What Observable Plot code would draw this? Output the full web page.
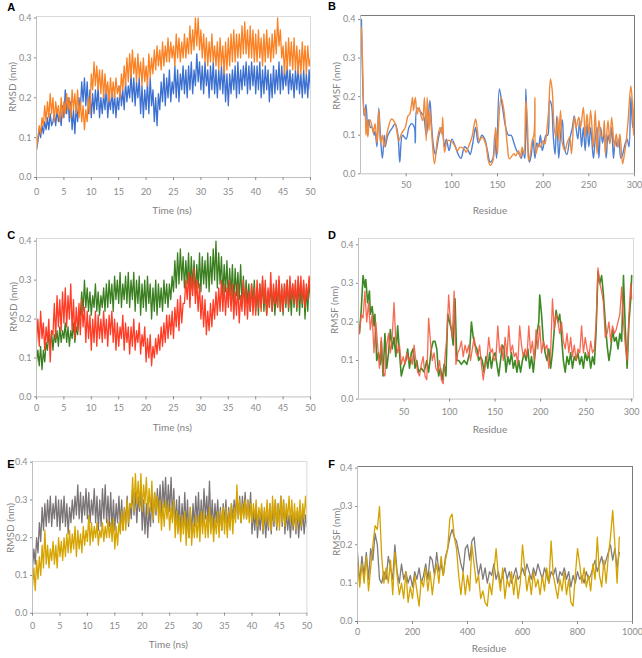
<!DOCTYPE html>
<html><head><meta charset="utf-8">
<script src="https://cdn.jsdelivr.net/npm/d3@7"></script>
<script src="https://cdn.jsdelivr.net/npm/@observablehq/plot@0.6"></script>
<style>
html,body{margin:0;padding:0;background:#fff;}
#root{position:relative;width:642px;height:658px;background:#fff;overflow:hidden;}
#root svg{position:absolute;}
</style></head>
<body><div id="root"></div>
<script>
// ---------- DATA ----------
const timeStep = 0.25; // ns between readings of the RMSD traces
// Panel A (RMSD, nm)
const aBlue = [0.07,0.09,0.12,0.10,0.13,0.11,0.14,0.12,0.15,0.12,0.16,0.13,0.14,0.16,0.13,0.17,0.14,0.16,0.13,0.18,
0.15,0.22,0.16,0.20,0.14,0.19,0.12,0.17,0.11,0.18,0.14,0.20,0.17,0.24,0.19,0.25,0.18,0.24,0.16,0.22,
0.15,0.21,0.16,0.22,0.17,0.23,0.15,0.20,0.16,0.21,0.17,0.23,0.15,0.20,0.17,0.22,0.16,0.21,0.15,0.20,
0.17,0.23,0.18,0.22,0.17,0.24,0.19,0.23,0.20,0.26,0.19,0.25,0.18,0.24,0.20,0.25,0.16,0.23,0.15,0.22,
0.17,0.24,0.16,0.25,0.18,0.22,0.14,0.20,0.13,0.21,0.17,0.24,0.19,0.26,0.18,0.25,0.20,0.27,0.19,0.24,
0.21,0.28,0.20,0.27,0.19,0.26,0.22,0.28,0.21,0.27,0.20,0.28,0.22,0.29,0.21,0.27,0.23,0.31,0.24,0.29,
0.22,0.28,0.21,0.29,0.23,0.27,0.20,0.28,0.22,0.29,0.21,0.27,0.20,0.27,0.22,0.28,0.21,0.28,0.19,0.26,
0.18,0.26,0.21,0.27,0.22,0.28,0.20,0.29,0.21,0.27,0.22,0.28,0.23,0.29,0.21,0.28,0.22,0.29,0.23,0.28,
0.21,0.28,0.22,0.29,0.20,0.27,0.21,0.28,0.22,0.27,0.19,0.26,0.20,0.28,0.21,0.27,0.22,0.29,0.21,0.28,
0.22,0.27,0.23,0.28,0.21,0.27,0.22,0.26,0.20,0.27,0.22,0.28,0.21,0.26,0.20,0.27,0.21,0.26,0.20,0.27,0.22];
const aOrange = [0.07,0.10,0.13,0.11,0.15,0.13,0.18,0.14,0.19,0.15,0.21,0.16,0.20,0.14,0.19,0.16,0.18,0.14,0.20,0.15,
0.19,0.16,0.21,0.17,0.20,0.15,0.22,0.17,0.21,0.16,0.22,0.15,0.19,0.14,0.18,0.12,0.17,0.14,0.20,0.16,
0.26,0.22,0.29,0.23,0.28,0.22,0.27,0.21,0.27,0.20,0.26,0.21,0.24,0.19,0.25,0.20,0.24,0.20,0.25,0.21,
0.23,0.20,0.26,0.22,0.28,0.23,0.30,0.24,0.31,0.25,0.32,0.26,0.30,0.24,0.31,0.25,0.29,0.23,0.30,0.24,
0.28,0.23,0.31,0.25,0.30,0.26,0.32,0.27,0.33,0.28,0.32,0.27,0.34,0.28,0.33,0.29,0.35,0.29,0.34,0.30,
0.33,0.28,0.36,0.30,0.35,0.29,0.34,0.30,0.36,0.30,0.35,0.31,0.38,0.31,0.37,0.32,0.40,0.33,0.40,0.32,
0.37,0.30,0.36,0.29,0.35,0.28,0.34,0.29,0.36,0.29,0.33,0.28,0.34,0.27,0.35,0.28,0.33,0.26,0.34,0.27,
0.35,0.28,0.36,0.29,0.37,0.29,0.36,0.30,0.36,0.30,0.38,0.31,0.39,0.31,0.37,0.30,0.38,0.30,0.37,0.29,
0.36,0.29,0.37,0.30,0.35,0.28,0.36,0.29,0.37,0.30,0.35,0.29,0.36,0.30,0.37,0.31,0.40,0.33,0.37,0.30,
0.33,0.26,0.34,0.27,0.35,0.28,0.34,0.27,0.35,0.27,0.33,0.26,0.32,0.26,0.34,0.27,0.33,0.26,0.33,0.28,0.30];
// Panel B (RMSF, nm) as [residue, value]
const bBlue = [[1,.40],[2,.28],[4,.15],[6,.18],[8,.10],[9,.14],[11,.12],[13,.12],[15,.10],[16,.11],[18,.07],[20,.17],[22,.09],[24,.04],[26,.10],[27,.07],[30,.10],[35,.12],[38,.13],[41,.10],[43,.03],[46,.10],[50,.09],[53,.12],[56,.13],[59,.12],[60,.08],[62,.17],[66,.16],[69,.15],[72,.10],[74,.14],[76,.19],[78,.12],[80,.07],[82,.05],[86,.10],[89,.12],[92,.07],[94,.09],[97,.06],[100,.09],[104,.07],[107,.05],[110,.04],[114,.07],[118,.06],[120,.05],[123,.08],[126,.12],[129,.08],[133,.10],[136,.09],[139,.06],[142,.03],[145,.04],[147,.10],[149,.04],[152,.22],[155,.18],[159,.12],[162,.10],[165,.10],[168,.08],[171,.06],[174,.05],[176,.04],[178,.06],[180,.04],[181,.22],[183,.08],[185,.03],[187,.05],[189,.09],[191,.04],[193,.08],[195,.07],[197,.10],[199,.06],[201,.08],[203,.10],[205,.10],[207,.19],[209,.18],[211,.10],[213,.05],[215,.15],[217,.04],[219,.10],[221,.14],[223,.07],[226,.05],[229,.09],[232,.12],[234,.15],[236,.12],[238,.09],[240,.14],[242,.07],[244,.12],[246,.06],[248,.13],[250,.07],[252,.12],[255,.04],[257,.09],[259,.12],[261,.04],[263,.12],[265,.08],[267,.11],[269,.04],[271,.10],[273,.08],[275,.12],[277,.04],[279,.09],[281,.07],[283,.09],[285,.04],[287,.05],[290,.08],[292,.09],[294,.07],[296,.20],[298,.12],[300,.17]];
const bOrange = [[1,.38],[2,.31],[4,.155],[5,.17],[6,.10],[7,.14],[8,.095],[10,.14],[12,.13],[14,.105],[16,.13],[18,.08],[20,.165],[22,.08],[24,.10],[26,.07],[29,.105],[34,.142],[38,.13],[42,.086],[45,.105],[49,.12],[52,.15],[54,.155],[57,.198],[58,.164],[60,.198],[62,.155],[64,.172],[65,.164],[68,.138],[70,.198],[72,.086],[73,.198],[75,.112],[76,.164],[78,.103],[81,.026],[84,.086],[87,.12],[89,.103],[90,.147],[92,.056],[95,.086],[98,.086],[102,.078],[106,.06],[109,.069],[113,.065],[116,.056],[118,.069],[122,.095],[126,.142],[128,.112],[130,.086],[133,.095],[137,.078],[140,.034],[142,.022],[145,.034],[148,.12],[150,.052],[151,.12],[154,.198],[157,.164],[161,.069],[163,.039],[168,.052],[170,.047],[173,.06],[175,.043],[177,.069],[179,.052],[181,.19],[183,.12],[184,.034],[186,.052],[188,.086],[190,.103],[191,.198],[192,.052],[195,.078],[197,.069],[200,.086],[202,.078],[204,.112],[206,.164],[208,.246],[210,.215],[212,.12],[214,.095],[216,.147],[217,.086],[219,.164],[221,.078],[224,.06],[226,.078],[229,.095],[231,.052],[234,.147],[236,.12],[239,.147],[241,.12],[244,.172],[246,.095],[248,.155],[250,.103],[252,.164],[255,.069],[257,.164],[259,.052],[261,.138],[263,.103],[265,.095],[267,.138],[268,.052],[271,.138],[273,.078],[275,.147],[278,.069],[280,.103],[282,.069],[284,.103],[287,.026],[289,.052],[291,.086],[293,.138],[296,.228],[298,.17],[299,.10],[300,.19]];
// Panel C (RMSD, nm)
const cGreen = [0.09,0.12,0.08,0.13,0.07,0.12,0.09,0.14,0.12,0.16,0.13,0.17,0.12,0.16,0.14,0.17,0.13,0.18,0.14,0.17,
0.15,0.19,0.14,0.18,0.13,0.17,0.15,0.19,0.14,0.18,0.16,0.20,0.21,0.27,0.22,0.30,0.23,0.28,0.22,0.27,
0.21,0.26,0.23,0.29,0.22,0.27,0.21,0.26,0.23,0.28,0.22,0.29,0.23,0.30,0.24,0.29,0.22,0.31,0.25,0.30,
0.24,0.32,0.23,0.29,0.25,0.31,0.24,0.32,0.23,0.30,0.25,0.32,0.22,0.30,0.24,0.31,0.21,0.29,0.23,0.30,
0.22,0.31,0.24,0.29,0.20,0.28,0.22,0.30,0.21,0.29,0.23,0.28,0.22,0.30,0.24,0.29,0.23,0.29,0.25,0.31,
0.27,0.35,0.28,0.37,0.29,0.38,0.30,0.36,0.28,0.35,0.29,0.37,0.27,0.36,0.28,0.35,0.26,0.34,0.28,0.37,
0.27,0.36,0.29,0.35,0.28,0.37,0.27,0.36,0.29,0.38,0.30,0.40,0.28,0.37,0.29,0.36,0.26,0.34,0.27,0.35,
0.25,0.33,0.26,0.34,0.24,0.33,0.26,0.32,0.25,0.34,0.24,0.31,0.23,0.30,0.24,0.29,0.22,0.29,0.24,0.30,
0.22,0.28,0.21,0.29,0.23,0.30,0.22,0.28,0.21,0.27,0.23,0.29,0.22,0.28,0.21,0.27,0.23,0.30,0.22,0.28,
0.21,0.29,0.23,0.30,0.22,0.28,0.21,0.29,0.23,0.29,0.22,0.30,0.21,0.28,0.23,0.29,0.20,0.28,0.22,0.30,0.25];
const cRed = [0.14,0.20,0.13,0.22,0.15,0.19,0.12,0.18,0.14,0.20,0.09,0.17,0.16,0.24,0.15,0.26,0.18,0.25,0.17,0.27,
0.19,0.28,0.18,0.26,0.20,0.29,0.17,0.25,0.15,0.23,0.17,0.24,0.16,0.25,0.18,0.23,0.14,0.22,0.15,0.21,
0.12,0.20,0.14,0.22,0.13,0.21,0.15,0.20,0.14,0.22,0.15,0.20,0.13,0.21,0.16,0.22,0.14,0.20,0.12,0.19,
0.13,0.18,0.15,0.21,0.12,0.19,0.14,0.18,0.11,0.18,0.13,0.20,0.12,0.17,0.14,0.19,0.11,0.16,0.13,0.18,
0.09,0.15,0.10,0.16,0.08,0.13,0.10,0.15,0.11,0.16,0.12,0.18,0.13,0.19,0.14,0.21,0.15,0.21,0.16,0.22,
0.15,0.23,0.18,0.25,0.17,0.26,0.19,0.24,0.24,0.30,0.25,0.32,0.23,0.31,0.26,0.33,0.24,0.30,0.22,0.29,
0.20,0.26,0.18,0.25,0.16,0.22,0.17,0.24,0.18,0.25,0.20,0.27,0.21,0.28,0.22,0.30,0.22,0.29,0.21,0.28,
0.23,0.30,0.22,0.29,0.20,0.27,0.21,0.29,0.19,0.26,0.22,0.30,0.21,0.28,0.20,0.27,0.22,0.29,0.21,0.28,
0.21,0.30,0.23,0.29,0.22,0.31,0.24,0.30,0.21,0.28,0.23,0.32,0.22,0.29,0.24,0.30,0.23,0.31,0.22,0.29,
0.22,0.29,0.24,0.30,0.23,0.31,0.25,0.29,0.24,0.30,0.23,0.31,0.25,0.31,0.24,0.30,0.23,0.29,0.25,0.31,0.27];
// Panel D (RMSF, nm) as [residue, value]
const dGreen = [[1,.17],[3,.23],[5,.32],[7,.29],[8,.31],[10,.25],[12,.28],[13,.22],[15,.24],[17,.19],[18,.22],[20,.10],[22,.12],[24,.09],[25,.15],[27,.06],[29,.17],[31,.08],[33,.12],[35,.18],[37,.13],[39,.16],[41,.11],[43,.19],[45,.12],[47,.06],[49,.08],[52,.10],[54,.13],[56,.08],[58,.12],[60,.13],[62,.08],[64,.10],[66,.07],[69,.08],[72,.07],[75,.10],[77,.07],[80,.13],[82,.15],[84,.15],[86,.13],[88,.06],[90,.08],[92,.05],[94,.09],[96,.06],[98,.22],[100,.20],[102,.18],[104,.14],[106,.26],[108,.10],[110,.10],[113,.09],[116,.10],[119,.09],[122,.12],[124,.20],[126,.16],[128,.14],[130,.13],[132,.10],[134,.11],[136,.10],[138,.07],[140,.11],[142,.08],[144,.12],[146,.08],[148,.11],[150,.12],[152,.09],[154,.06],[156,.10],[158,.14],[160,.13],[162,.07],[164,.11],[166,.09],[168,.12],[170,.08],[172,.10],[174,.07],[176,.10],[178,.07],[180,.10],[182,.12],[184,.10],[186,.13],[188,.08],[190,.11],[192,.07],[194,.12],[196,.17],[198,.20],[199,.27],[201,.22],[203,.15],[205,.12],[207,.10],[209,.13],[211,.08],[213,.12],[215,.18],[217,.23],[219,.20],[221,.22],[223,.16],[225,.10],[227,.07],[229,.11],[231,.09],[233,.12],[235,.08],[237,.11],[239,.10],[241,.12],[243,.09],[245,.11],[247,.08],[249,.12],[251,.10],[253,.12],[255,.08],[257,.11],[259,.09],[261,.18],[263,.33],[265,.30],[267,.32],[269,.27],[271,.20],[273,.14],[275,.10],[277,.13],[279,.18],[281,.15],[283,.16],[285,.13],[287,.17],[289,.15],[291,.32],[293,.18],[295,.08],[297,.20],[299,.26],[300,.32]];
const dRed = [[1,.17],[3,.22],[5,.21],[7,.28],[9,.20],[11,.25],[13,.18],[15,.22],[17,.12],[19,.20],[21,.14],[23,.08],[25,.16],[27,.07],[29,.06],[31,.14],[33,.17],[35,.12],[37,.16],[39,.25],[41,.15],[43,.12],[45,.14],[47,.09],[49,.11],[51,.09],[53,.12],[55,.10],[57,.11],[59,.09],[61,.14],[63,.10],[65,.07],[67,.06],[69,.09],[71,.11],[73,.06],[75,.05],[77,.21],[79,.15],[81,.10],[83,.12],[85,.08],[87,.07],[89,.10],[91,.05],[93,.04],[95,.11],[97,.16],[99,.27],[101,.20],[103,.16],[105,.28],[107,.09],[109,.12],[111,.13],[113,.15],[115,.11],[117,.14],[119,.12],[121,.14],[123,.10],[125,.13],[127,.16],[129,.12],[131,.11],[133,.14],[135,.09],[137,.05],[139,.09],[141,.10],[143,.16],[145,.12],[147,.13],[149,.10],[151,.11],[153,.19],[155,.12],[157,.14],[159,.10],[161,.16],[163,.11],[165,.19],[167,.12],[169,.14],[171,.11],[173,.12],[175,.09],[177,.19],[179,.14],[181,.11],[183,.13],[185,.11],[187,.19],[189,.12],[191,.15],[193,.10],[195,.18],[197,.13],[199,.19],[201,.12],[203,.15],[205,.13],[207,.14],[209,.08],[211,.12],[213,.26],[215,.18],[217,.22],[219,.20],[221,.17],[223,.20],[225,.15],[227,.13],[229,.17],[231,.12],[233,.16],[235,.11],[237,.14],[239,.10],[241,.13],[243,.12],[245,.19],[247,.12],[249,.16],[251,.13],[253,.11],[255,.15],[257,.12],[259,.13],[261,.20],[263,.34],[265,.30],[267,.28],[269,.25],[271,.16],[273,.17],[275,.20],[277,.15],[279,.19],[281,.17],[283,.18],[285,.20],[287,.22],[289,.29],[291,.20],[293,.14],[295,.10],[297,.22],[299,.30],[300,.26]];
// Panel E (RMSD, nm)
const eGray = [0.12,0.17,0.13,0.20,0.16,0.24,0.19,0.28,0.22,0.29,0.23,0.30,0.24,0.31,0.23,0.29,0.25,0.31,0.23,0.30,
0.22,0.30,0.24,0.31,0.23,0.29,0.21,0.28,0.24,0.30,0.25,0.31,0.26,0.34,0.25,0.32,0.24,0.31,0.26,0.33,
0.25,0.32,0.24,0.30,0.26,0.33,0.24,0.31,0.22,0.30,0.23,0.33,0.25,0.34,0.24,0.31,0.23,0.32,0.22,0.30,
0.22,0.29,0.24,0.31,0.23,0.30,0.22,0.28,0.24,0.31,0.23,0.29,0.25,0.33,0.26,0.32,0.24,0.31,0.27,0.33,
0.22,0.30,0.21,0.29,0.20,0.28,0.23,0.31,0.24,0.32,0.26,0.33,0.27,0.34,0.25,0.35,0.28,0.36,0.26,0.34,
0.27,0.36,0.25,0.33,0.23,0.30,0.22,0.31,0.21,0.29,0.23,0.32,0.22,0.30,0.20,0.28,0.21,0.29,0.23,0.31,
0.24,0.32,0.22,0.30,0.23,0.33,0.25,0.31,0.24,0.35,0.23,0.30,0.22,0.29,0.24,0.30,0.23,0.28,0.22,0.29,
0.24,0.30,0.22,0.28,0.23,0.29,0.25,0.30,0.26,0.32,0.25,0.31,0.24,0.31,0.26,0.32,0.25,0.30,0.26,0.32,
0.21,0.27,0.22,0.28,0.20,0.26,0.22,0.28,0.21,0.27,0.20,0.26,0.22,0.29,0.21,0.28,0.23,0.30,0.22,0.29,
0.24,0.31,0.23,0.30,0.21,0.27,0.22,0.26,0.20,0.26,0.22,0.27,0.21,0.27,0.20,0.26,0.22,0.27,0.21,0.26,0.23];
const eGold = [0.07,0.12,0.06,0.14,0.09,0.15,0.10,0.18,0.12,0.22,0.13,0.18,0.12,0.17,0.14,0.19,0.13,0.18,0.12,0.20,
0.15,0.19,0.14,0.20,0.15,0.21,0.16,0.22,0.16,0.21,0.17,0.23,0.15,0.22,0.17,0.21,0.16,0.23,0.18,0.22,
0.19,0.26,0.18,0.24,0.19,0.23,0.20,0.24,0.18,0.22,0.20,0.24,0.19,0.23,0.20,0.25,0.20,0.24,0.19,0.25,
0.17,0.23,0.18,0.24,0.21,0.27,0.22,0.28,0.22,0.30,0.24,0.29,0.28,0.36,0.27,0.37,0.29,0.35,0.28,0.37,
0.27,0.34,0.29,0.36,0.26,0.33,0.27,0.35,0.25,0.32,0.27,0.31,0.24,0.30,0.22,0.29,0.23,0.30,0.25,0.29,
0.22,0.28,0.24,0.30,0.20,0.27,0.21,0.26,0.19,0.26,0.21,0.27,0.18,0.25,0.20,0.28,0.18,0.24,0.20,0.26,
0.20,0.26,0.19,0.27,0.21,0.27,0.20,0.26,0.20,0.28,0.21,0.26,0.19,0.25,0.21,0.27,0.20,0.27,0.22,0.28,
0.21,0.28,0.20,0.27,0.22,0.29,0.21,0.28,0.24,0.34,0.25,0.30,0.24,0.29,0.25,0.30,0.25,0.30,0.24,0.29,
0.24,0.29,0.25,0.30,0.23,0.28,0.25,0.29,0.22,0.28,0.24,0.30,0.23,0.29,0.22,0.31,0.24,0.30,0.23,0.29,
0.22,0.31,0.24,0.30,0.23,0.29,0.25,0.31,0.24,0.30,0.23,0.29,0.22,0.28,0.24,0.30,0.23,0.29,0.25,0.31,0.26];
// Panel F (RMSF, nm), one reading every fStep residues
const fStep = 8;
const fGray = [0.18,0.10,0.17,0.12,0.18,0.11,0.19,0.16,0.23,0.20,0.11,0.10,0.13,0.11,0.17,0.14,0.11,0.20,0.13,0.10,
0.15,0.11,0.13,0.10,0.12,0.09,0.13,0.11,0.14,0.10,0.12,0.15,0.11,0.17,0.16,0.12,0.18,0.13,0.15,0.12,
0.17,0.19,0.22,0.24,0.22,0.21,0.18,0.15,0.13,0.19,0.20,0.16,0.21,0.22,0.16,0.12,0.15,0.11,0.14,0.10,
0.13,0.12,0.15,0.11,0.13,0.10,0.12,0.14,0.11,0.13,0.10,0.12,0.14,0.11,0.12,0.14,0.12,0.15,0.13,0.11,
0.14,0.12,0.15,0.13,0.11,0.14,0.12,0.10,0.13,0.12,0.14,0.10,0.13,0.12,0.14,0.11,0.13,0.09,0.12,0.10,
0.13,0.11,0.12,0.10,0.13,0.11,0.12,0.14,0.16,0.13,0.15,0.17,0.14,0.16,0.18,0.20,0.16,0.19,0.14,0.18];
const fGold = [0.16,0.09,0.15,0.10,0.17,0.08,0.14,0.20,0.25,0.24,0.30,0.17,0.10,0.14,0.10,0.16,0.07,0.18,0.12,0.07,
0.10,0.06,0.13,0.05,0.09,0.06,0.12,0.08,0.04,0.11,0.09,0.14,0.08,0.13,0.07,0.12,0.15,0.10,0.17,0.12,
0.16,0.19,0.27,0.28,0.22,0.19,0.12,0.07,0.13,0.07,0.12,0.08,0.20,0.15,0.10,0.12,0.06,0.08,0.05,0.04,
0.10,0.07,0.13,0.19,0.12,0.08,0.14,0.06,0.11,0.09,0.13,0.07,0.12,0.06,0.10,0.20,0.14,0.08,0.12,0.07,
0.13,0.09,0.11,0.07,0.12,0.08,0.14,0.10,0.21,0.12,0.09,0.06,0.11,0.08,0.13,0.07,0.11,0.05,0.04,0.12,
0.19,0.15,0.10,0.14,0.09,0.12,0.08,0.15,0.11,0.22,0.12,0.09,0.16,0.10,0.17,0.22,0.29,0.20,0.10,0.22];
// Ticks
const timeTicks = [0,5,10,15,20,25,30,35,40,45,50];
const res300Ticks = [50,100,150,200,250,300];
const res1000Ticks = [0,200,400,600,800,1000];
const rmsTicks = [0,0.1,0.2,0.3,0.4];

// ---------- LAYOUT ----------
const root = document.getElementById("root");
const tseries = (arr) => arr.map((v, i) => ({x: i * timeStep, y: v}));
const fseries = (arr) => arr.map((v, i) => ({x: i * fStep, y: v}));
const pairs = (arr) => arr.map(([x, y]) => ({x, y}));

const panels = [
  {L:36, R:310, B:177, top:16, yMax:0.4038, xDomain:[0,50], xTicks:timeTicks, xPad:7.8, frame:"#d9d9d9", frameTR:"#d9d9d9",
   series:[{d:tseries(aBlue), c:"#3c70d0", w:1.3}, {d:tseries(aOrange), c:"#fa8224", w:1.3}]},
  {L:359.5, R:633.5, B:173.3, top:15, yMax:0.4104, xDomain:[0,300], xTicks:res300Ticks, xPad:4.5, frame:"#d0d0d0", frameTR:"#7a7a7a",
   series:[{d:pairs(bBlue), c:"#4e80d4", w:1.4, curve:"catmull-rom"}, {d:pairs(bOrange), c:"#f08a3c", w:1.4, curve:"catmull-rom"}]},
  {L:36, R:310, B:396.7, top:238.3, yMax:0.4069, xDomain:[0,50], xTicks:timeTicks, xPad:4.8, frame:"#d9d9d9", frameTR:"#d9d9d9",
   series:[{d:tseries(cGreen), c:"#3a7f1f", w:1.3}, {d:tseries(cRed), c:"#ff3c25", w:1.3}]},
  {L:358, R:633, B:398.3, top:237.7, yMax:0.4163, xDomain:[0,302], xTicks:res300Ticks, xPad:6.5, frame:"#d9d9d9", frameTR:"#d9d9d9",
   series:[{d:pairs(dGreen), c:"#3d8a24", w:1.6}, {d:pairs(dRed), c:"#f55a40", w:1.3, o:0.9}]},
  {L:32.3, R:306.7, B:612.7, top:461, yMax:0.4019, xDomain:[0,50], xTicks:timeTicks, xPad:6.1, frame:"#d9d9d9", frameTR:"#d9d9d9",
   series:[{d:tseries(eGray), c:"#7b7476", w:1.3}, {d:tseries(eGold), c:"#d6a400", w:1.3}]},
  {L:356.7, R:631.7, B:620.7, top:465.7, yMax:0.4042, xDomain:[0,1000], xTicks:res1000Ticks, xPad:4.1, frame:"#d0d0d0", frameTR:"#7a7a7a",
   series:[{d:fseries(fGray), c:"#807b7d", w:1.3}, {d:fseries(fGold), c:"#d4a200", w:1.3}]}
];

const mL = 40, mT = 5, mR = 16, mB = 30;
for (const p of panels) {
  const width = p.R - p.L + mL + mR;
  const height = p.B - p.top + mT + mB;
  const marks = [
    Plot.ruleY([p.yMax], {stroke: p.frameTR}),
    Plot.ruleX([p.xDomain[1]], {stroke: p.frameTR}),
    ...p.series.map(s => Plot.line(s.d, {x: "x", y: "y", stroke: s.c, strokeWidth: s.w, strokeOpacity: s.o ?? 1, curve: s.curve ?? "linear", clip: true})),
    Plot.ruleY([0], {stroke: "#bfbfbf"}),
    Plot.ruleX([p.xDomain[0]], {stroke: "#bfbfbf"}),
    Plot.axisX({ticks: p.xTicks, tickSize: 3, tickPadding: p.xPad, label: null, tickFormat: d => String(d)}),
    Plot.axisY({ticks: rmsTicks, tickSize: 2, tickPadding: 3, label: null, tickFormat: d => d.toFixed(1)})
  ];
  const svg = Plot.plot({
    width, height, marginLeft: mL, marginTop: mT, marginRight: mR, marginBottom: mB,
    x: {domain: p.xDomain}, y: {domain: [0, p.yMax]},
    style: {fontFamily: "Lato, 'Open Sans', sans-serif", fontSize: "9px", color: "#8a8a8a", background: "transparent", overflow: "visible"},
    marks
  });
  svg.style.left = (p.L - mL) + "px";
  svg.style.top = (p.top - mT) + "px";
  root.appendChild(svg);
}

// ---------- TEXT ----------
const letters = [["A",11.2,7],["B",332,6.4],["C",11.2,235],["D",332,235],["E",10.8,463.5],["F",331.5,463.8]];
const xTitles = [["Time (ns)",172,210],["Residue",490,210],["Time (ns)",172.3,427],["Residue",490,429],["Time (ns)",168.3,644],["Residue",489,648]];
const yTitles = [["RMSD (nm)",12,87],["RMSF (nm)",336,86],["RMSD (nm)",13.3,307],["RMSF (nm)",334.3,310],["RMSD (nm)",10,528],["RMSF (nm)",336,532]];
const ov = d3.select(root).append("svg").attr("width",642).attr("height",658).style("left","0px").style("top","0px");
ov.selectAll("text.l").data(letters).join("text").attr("x",d=>d[1]).attr("y",d=>d[2])
  .attr("text-anchor","middle").attr("dominant-baseline","central")
  .style("font","bold 11px 'Liberation Sans', Arial, sans-serif").attr("fill","#000").text(d=>d[0]);
ov.selectAll("text.x").data(xTitles).join("text").attr("x",d=>d[1]).attr("y",d=>d[2])
  .attr("text-anchor","middle").attr("dominant-baseline","central")
  .style("font","10px Lato, 'Open Sans', sans-serif").attr("fill","#7f7f7f").text(d=>d[0]);
ov.selectAll("text.y").data(yTitles).join("text").attr("transform",d=>`translate(${d[1]},${d[2]}) rotate(-90)`)
  .attr("text-anchor","middle").attr("dominant-baseline","central")
  .style("font","10px Lato, 'Open Sans', sans-serif").attr("fill","#7f7f7f").text(d=>d[0]);
</script>
</body></html>
